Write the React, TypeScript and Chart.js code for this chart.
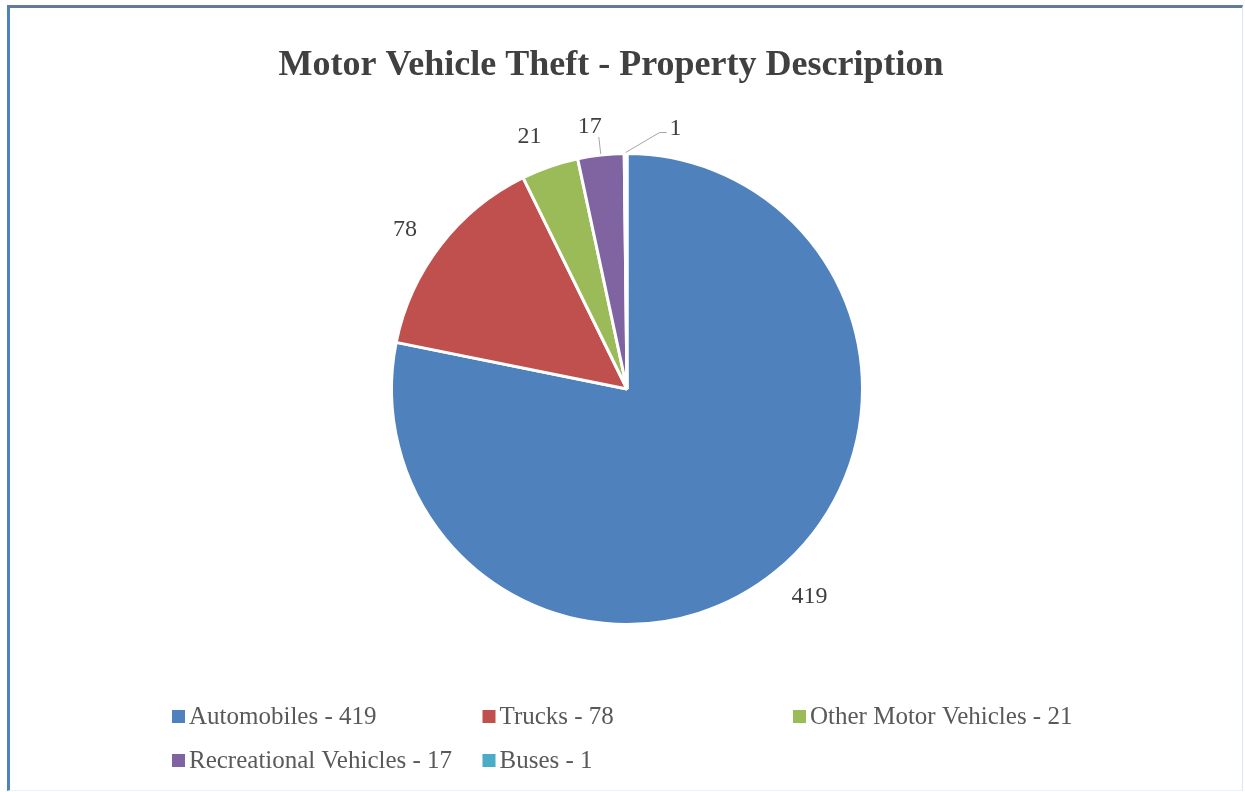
import React, { useEffect, useRef } from "react";
import { Chart, registerables } from "chart.js";

Chart.register(...registerables);

const chartTitle = "Motor Vehicle Theft - Property Description";
const categories = ["Automobiles", "Trucks", "Other Motor Vehicles", "Recreational Vehicles", "Buses"];
const values = [419, 78, 21, 17, 1];
const sliceColors = ["#4F81BD", "#C0504D", "#9BBB59", "#8064A2", "#4BACC6"];

const SERIF = '"Liberation Serif", "Times New Roman", serif';

const overlayPlugin = {
  id: "overlay",
  afterDraw(chart: any) {
    const ctx = chart.ctx as CanvasRenderingContext2D;

    // Title
    ctx.save();
    ctx.font = `bold 36px ${SERIF}`;
    ctx.fillStyle = "#404040";
    ctx.textAlign = "center";
    ctx.textBaseline = "alphabetic";
    ctx.fillText(chartTitle, 611, 75);
    ctx.restore();

    // Data labels
    const meta = chart.getDatasetMeta(0);
    const total = values.reduce((a, b) => a + b, 0);
    ctx.save();
    ctx.font = `24px ${SERIF}`;
    ctx.fillStyle = "#404040";
    ctx.strokeStyle = "#a6a6a6";
    ctx.lineWidth = 1;
    meta.data.forEach((arc: any, i: number) => {
      const { x, y, startAngle, endAngle, outerRadius } = arc.getProps(
        ["x", "y", "startAngle", "endAngle", "outerRadius"],
        true
      );
      const mid = (startAngle + endAngle) / 2;
      const dx = Math.cos(mid);
      const dy = Math.sin(mid);
      const text = String(values[i]);
      const tw = ctx.measureText(text).width;
      const th = 16;
      const share = values[i] / total;
      if (share < 0.01) {
        const sx = x + dx * (outerRadius + 1);
        const sy = y + dy * (outerRadius + 1);
        const ex = sx + 34;
        const ey = sy - 20;
        ctx.beginPath();
        ctx.moveTo(sx, sy);
        ctx.lineTo(ex, ey);
        ctx.lineTo(ex + 7, ey);
        ctx.stroke();
        ctx.textAlign = "left";
        ctx.textBaseline = "middle";
        ctx.fillText(text, ex + 10, ey - 4);
        return;
      }
      const withLeader = share < 0.035;
      if (withLeader) {
        const gap = 19;
        const half = Math.abs(dx) * (tw / 2) + Math.abs(dy) * (th / 2);
        const d = outerRadius + gap + half;
        ctx.beginPath();
        ctx.moveTo(x + dx * (outerRadius + 1), y + dy * (outerRadius + 1));
        ctx.lineTo(x + dx * (outerRadius + gap - 1), y + dy * (outerRadius + gap - 1));
        ctx.stroke();
        ctx.textAlign = "center";
        ctx.textBaseline = "middle";
        ctx.fillText(text, x + dx * d - tw / 3, y + dy * d);
        return;
      }
      const a = mid - 0.035;
      const ax = Math.cos(a);
      const ay = Math.sin(a);
      const half = Math.abs(ax) * (tw / 2) + Math.abs(ay) * (th / 2);
      const d = outerRadius + 23 + half;
      ctx.textAlign = "center";
      ctx.textBaseline = "middle";
      ctx.fillText(text, x + ax * d, y + ay * d);
    });
    ctx.restore();

    // Legend (grid)
    ctx.save();
    ctx.font = `25px ${SERIF}`;
    ctx.textAlign = "left";
    ctx.textBaseline = "middle";
    const left = 172;
    const colW = 310.5;
    const rowH = 44;
    const top = 716;
    const cols = 3;
    categories.forEach((cat, i) => {
      const c = i % cols;
      const r = Math.floor(i / cols);
      const bx = left + c * colW;
      const by = top + r * rowH;
      ctx.fillStyle = sliceColors[i];
      ctx.fillRect(bx, by - 6, 13, 13);
      ctx.fillStyle = "#595959";
      ctx.fillText(`${cat} - ${values[i]}`, bx + 17, by + 1);
    });
    ctx.restore();
  },
};

export default function App() {
  const ref = useRef<HTMLCanvasElement | null>(null);
  useEffect(() => {
    if (!ref.current) return;
    const chart = new Chart(ref.current, {
      type: "pie",
      data: {
        labels: categories,
        datasets: [
          {
            data: values,
            backgroundColor: sliceColors,
            borderColor: "#ffffff",
            borderWidth: 3,
          },
        ],
      },
      options: {
        responsive: false,
        animation: false,
        devicePixelRatio: 1,
        layout: { padding: { top: 152, bottom: 166, left: 327, right: 318 } },
        plugins: {
          legend: { display: false },
          title: { display: false },
          tooltip: { enabled: false },
        },
      },
      plugins: [overlayPlugin],
    });
    return () => chart.destroy();
  }, []);

  return (
    <div style={{ position: "fixed", left: 0, top: 0, width: 1245, height: 792, background: "#ffffff" }}>
      <div
        style={{
          position: "absolute",
          left: 7,
          top: 5,
          width: 1236,
          height: 786,
          boxSizing: "border-box",
          borderLeft: "3px solid #4F81BD",
          borderTop: "3px solid #647a9c",
          borderRight: "1px solid #dce6f2",
          borderBottom: "1px solid #e8f0fa",
        }}
      />
      <canvas ref={ref} width={1245} height={792} style={{ position: "absolute", left: 0, top: 0 }} />
    </div>
  );
}
